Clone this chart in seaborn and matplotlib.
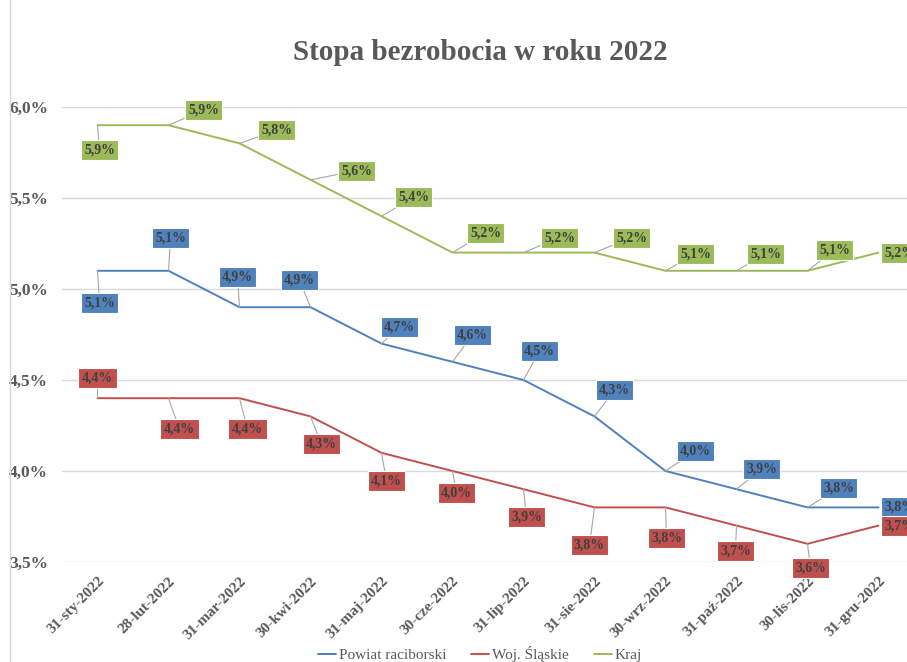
import matplotlib
matplotlib.use("Agg")
import matplotlib.pyplot as plt
import seaborn as sns
import pandas as pd
import numpy as np
from matplotlib.lines import Line2D

dates = ["31-sty-2022", "28-lut-2022", "31-mar-2022", "30-kwi-2022", "31-maj-2022",
         "30-cze-2022", "31-lip-2022", "31-sie-2022", "30-wrz-2022", "31-paź-2022",
         "30-lis-2022", "31-gru-2022"]
powiat = [5.1, 5.1, 4.9, 4.9, 4.7, 4.6, 4.5, 4.3, 4.0, 3.9, 3.8, 3.8]
woj = [4.4, 4.4, 4.4, 4.3, 4.1, 4.0, 3.9, 3.8, 3.8, 3.7, 3.6, 3.7]
kraj = [5.9, 5.9, 5.8, 5.6, 5.4, 5.2, 5.2, 5.2, 5.1, 5.1, 5.1, 5.2]
series_names = ["Powiat raciborski", "Woj. Śląskie", "Kraj"]
title = "Stopa bezrobocia w roku 2022"

colors = {"Powiat raciborski": "#4F81BD", "Woj. Śląskie": "#C0504D", "Kraj": "#9BBB59"}

# label offsets in pixels (dx right, dy down) - style only
off_powiat = [(2, 32), (2, -33), (-2, -30), (-11, -27), (18, -17), (20, -27), (16, -29),
              (20, -26), (30, -20), (25, -20), (31, -19), (None, None)]
off_woj = [(0, -20), (11, 31), (8, 31), (11, 28), (5, 28), (4, 22), (3, 28), (-5, 38),
           (1, 31), (-1, 25), (3, 24), (None, None)]
off_kraj = [(2, 25), (35, -15), (37, -13), (46, -9), (32, -19), (33, -20), (36, -15),
            (37, -15), (30, -17), (29, -17), (27, -21), (None, None)]

sns.set_theme(style="white")
plt.rcParams["font.family"] = ["Liberation Serif", "DejaVu Serif"]

df = pd.DataFrame({"data": dates * 3,
                   "x": list(range(len(dates))) * 3,
                   "val": powiat + woj + kraj,
                   "seria": [series_names[0]] * 12 + [series_names[1]] * 12 + [series_names[2]] * 12})

W, H = 907, 662
fig = plt.figure(figsize=(W / 100, H / 100), dpi=100)
ax_left, ax_right = 62, 914
ax_top, ax_bot = 107, 562
ax = fig.add_axes([ax_left / W, 1 - ax_bot / H, (ax_right - ax_left) / W, (ax_bot - ax_top) / H])

sns.lineplot(data=df, x="x", y="val", hue="seria", palette=colors, ax=ax,
             linewidth=1.4, legend=False, hue_order=series_names)

ax.set_xlim(-0.5, 11.5)
ax.set_ylim(3.5, 6.0)
yt = [3.5, 4.0, 4.5, 5.0, 5.5, 6.0]
ax.set_yticks(yt)
ax.set_yticklabels([f"{v:.1f}%".replace(".", ",") for v in yt],
                   fontsize=12.5, fontweight="bold", color="#595959")
ax.set_xticks(range(len(dates)))
ax.set_xticklabels(dates, rotation=45, ha="right", rotation_mode="anchor",
                   fontsize=11, fontweight="bold", color="#595959")
ax.tick_params(axis="x", pad=9, length=0)
ax.tick_params(axis="y", pad=10, length=0)
ax.grid(axis="y", color="#D9D9D9", linewidth=1)
ax.set_axisbelow(True)
for s in ax.spines.values():
    s.set_visible(False)
ax.set_xlabel("")
ax.set_ylabel("")

for name, vals, offs in [(series_names[2], kraj, off_kraj), (series_names[0], powiat, off_powiat),
                         (series_names[1], woj, off_woj)]:
    c = colors[name]
    for i, v in enumerate(vals):
        dx, dy = offs[i]
        txt = f"{v:.1f}%".replace(".", ",")
        if dx is None:
            ax.annotate(txt, (i, v), xytext=(6, 0), textcoords="offset pixels",
                        ha="left", va="center", fontsize=10, fontweight="bold", color="#404040",
                        bbox=dict(boxstyle="square,pad=0.25", fc=c, ec="white", lw=0.8),
                        annotation_clip=False)
        else:
            ax.annotate(txt, (i, v), xytext=(dx, -dy), textcoords="offset pixels",
                        ha="center", va="center", fontsize=10, fontweight="bold", color="#404040",
                        bbox=dict(boxstyle="square,pad=0.25", fc=c, ec="white", lw=0.8),
                        arrowprops=dict(arrowstyle="-", color="#A6A6A6", lw=0.8,
                                        shrinkA=0, shrinkB=0),
                        annotation_clip=False)

fig.text(480 / W, 1 - 52 / H, title, ha="center", va="center", fontsize=21,
         fontweight="bold", color="#595959")

handles = [Line2D([0], [0], color=colors[n], lw=1.4) for n in series_names]
fig.legend(handles, series_names, loc="center", bbox_to_anchor=(480 / W, 1 - 654 / H),
           ncol=3, frameon=False, fontsize=11, handlelength=1.2, handletextpad=0.2,
           columnspacing=1.6, labelcolor="#595959")

fig.add_artist(Line2D([10 / W, 10 / W], [0, 1], color="#D9D9D9", lw=1))

fig.savefig("out.png", dpi=100)
